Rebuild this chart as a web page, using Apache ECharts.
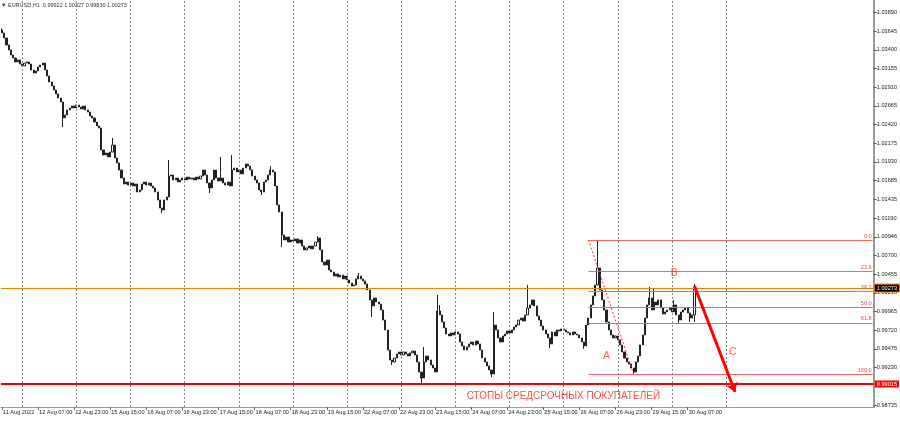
<!DOCTYPE html>
<html>
<head>
<meta charset="utf-8">
<script src="https://cdn.jsdelivr.net/npm/echarts@6/dist/echarts.min.js"></script>
<style>
html, body { margin: 0; padding: 0; background: #fff; }
#chart { width: 900px; height: 421px; }
</style>
</head>
<body>
<div id="chart"></div>
<script>
// EURUSD H1, 11 Aug 15:00 .. 30 Aug 10:00 (one close per bar)
const firstOpen = 1.03660
const closes = [
  1.03621, 1.03555, 1.03464, 1.03398, 1.03332, 1.03293, 1.03241, 1.03267, 1.03214, 1.03188,
  1.03227, 1.03241, 1.03214, 1.03135, 1.03096, 1.03122, 1.03175, 1.03201, 1.03227, 1.03135,
  1.03057, 1.02978, 1.02926, 1.02873, 1.02821, 1.02768, 1.02716, 1.02506, 1.02545, 1.02611,
  1.02637, 1.02663, 1.02637, 1.02676, 1.02650, 1.02624, 1.02663, 1.02611, 1.02584, 1.02532,
  1.02506, 1.02453, 1.02401, 1.02374, 1.02086, 1.02020, 1.02046, 1.01994, 1.02059, 1.02151,
  1.01981, 1.01915, 1.01823, 1.01718, 1.01640, 1.01666, 1.01626, 1.01653, 1.01613, 1.01640,
  1.01535, 1.01561, 1.01640, 1.01666, 1.01626, 1.01653, 1.01613, 1.01587, 1.01535, 1.01430,
  1.01325, 1.01298, 1.01430, 1.01469, 1.01744, 1.01758, 1.01692, 1.01718, 1.01666, 1.01692,
  1.01718, 1.01692, 1.01731, 1.01705, 1.01718, 1.01692, 1.01731, 1.01705, 1.01744, 1.01823,
  1.01758, 1.01653, 1.01587, 1.01692, 1.01823, 1.01718, 1.01679, 1.01718, 1.01653, 1.01626,
  1.01666, 1.01613, 1.01823, 1.01849, 1.01797, 1.01823, 1.01771, 1.01849, 1.01902, 1.01876,
  1.01823, 1.01744, 1.01692, 1.01653, 1.01561, 1.01535, 1.01666, 1.01692, 1.01758, 1.01823,
  1.01797, 1.01613, 1.01364, 1.01272, 1.00970, 1.00905, 1.00944, 1.00878, 1.00905, 1.00892,
  1.00918, 1.00865, 1.00905, 1.00826, 1.00774, 1.00800, 1.00826, 1.00787, 1.00826, 1.00878,
  1.00931, 1.00774, 1.00616, 1.00577, 1.00642, 1.00511, 1.00485, 1.00432, 1.00459, 1.00419,
  1.00445, 1.00393, 1.00432, 1.00380, 1.00340, 1.00301, 1.00314, 1.00393, 1.00432, 1.00393,
  1.00367, 1.00327, 1.00249, 1.00118, 1.00039, 1.00144, 1.00091, 1.00065, 0.99986, 0.99854,
  0.99724, 0.99461, 0.99330, 0.99304, 0.99356, 0.99409, 0.99435, 0.99396, 0.99435, 0.99409,
  0.99383, 0.99422, 0.99448, 0.99396, 0.99304, 0.99172, 0.99093, 0.99304, 0.99383, 0.99330,
  0.99264, 0.99225, 0.99172, 0.99973, 0.99921, 0.99829, 0.99750, 0.99671, 0.99645, 0.99685,
  0.99658, 0.99698, 0.99671, 0.99566, 0.99514, 0.99461, 0.99501, 0.99540, 0.99566, 0.99527,
  0.99580, 0.99540, 0.99461, 0.99356, 0.99304, 0.99251, 0.99199, 0.99146, 0.99789, 0.99724,
  0.99619, 0.99566, 0.99645, 0.99671, 0.99711, 0.99685, 0.99724, 0.99763, 0.99789, 0.99854,
  0.99881, 0.99841, 0.99921, 1.00012, 1.00052, 1.00118, 1.00039, 0.99907, 0.99854, 0.99776,
  0.99724, 0.99671, 0.99619, 0.99540, 0.99698, 0.99645, 0.99724, 0.99711, 0.99737, 0.99724,
  0.99698, 0.99685, 0.99658, 0.99698, 0.99671, 0.99658, 0.99619, 0.99566, 0.99514, 0.99789,
  0.99881, 1.00052, 1.00170, 1.00314, 1.00537, 1.00249, 1.00118, 0.99986, 0.99829, 0.99724,
  0.99658, 0.99619, 0.99645, 0.99593, 0.99527, 0.99435, 0.99356, 0.99304, 0.99277, 0.99225,
  0.99172, 0.99304, 0.99383, 0.99527, 0.99658, 0.99881, 1.00052, 1.00144, 0.99986, 1.00091,
  1.00052, 1.00118, 1.00012, 0.99934, 0.99960, 0.99986, 1.00012, 0.99960, 1.00052, 0.99921,
  0.99854, 0.99960, 0.99986, 1.00012, 0.99947, 0.99881, 0.99922, 1.00273
]
// long wicks visible in the picture (bar index -> price)
const wickHigh = {
  0: 1.03680, 49: 1.02243, 74: 1.01954, 97: 1.01994, 102: 1.02020, 119: 1.01876,
  140: 1.00957, 158: 1.00472, 187: 0.99501, 193: 1.00183, 194: 1.00052, 218: 0.99960,
  233: 1.00314, 237: 1.00012, 264: 1.00905, 287: 1.00288, 289: 1.00275, 298: 1.00118, 307: 1.00327
}
const wickLow = {
  27: 1.02388, 71: 1.01259, 92: 1.01521, 115: 1.01495, 124: 1.00813, 164: 0.99894,
  173: 0.99264, 186: 0.99028, 217: 0.99107, 243: 0.99488, 258: 0.99475, 280: 0.99146,
  300: 0.99815, 305: 0.99829, 307: 0.99830
}
const timeLabels = [
  '11 Aug 2022', '12 Aug 07:00', '12 Aug 23:00', '15 Aug 15:00', '16 Aug 07:00',
  '16 Aug 23:00', '17 Aug 15:00', '18 Aug 07:00', '18 Aug 23:00', '19 Aug 15:00',
  '22 Aug 07:00', '22 Aug 23:00', '23 Aug 15:00', '24 Aug 07:00', '24 Aug 23:00',
  '25 Aug 15:00', '26 Aug 07:00', '26 Aug 23:00', '29 Aug 15:00', '30 Aug 07:00'
]
const barsPerLabel = 16
const dayStarts = [9, 33, 57, 81, 105, 129, 153, 177, 201, 225, 249, 273, 297, 321]
const priceTicks = [
  1.03890, 1.03645, 1.03400, 1.03155, 1.02910, 1.02665, 1.02420, 1.02175, 1.01930, 1.01685,
  1.01435, 1.01190, 1.00946, 1.00700, 1.00455, 1.00210, 0.99965, 0.99720, 0.99475, 0.99230, 0.98735
]
const bidPrice = 1.00273
const stopPrice = 0.99015
const fibStart = 260
const fibEnd = 280
const fibHigh = 1.00905
const fibLow = 0.99146
const fibLevels = [0, 23.6, 38.2, 50, 61.8, 100]
const arrowFrom = [307, 1.00301]
const arrowTo = [325, 0.98910]
const waveLabels = [
  { name: 'A', value: [268, 0.99383] },
  { name: 'B', value: [298, 1.00472] },
  { name: 'C', value: [324, 0.99435] }
]
const stopText = { name: 'СТОПЫ СРЕДСРОЧНЫХ ПОКУПАТЕЛЕЙ', value: [206, 0.98858] }
const totalSlots = 387

const categories = []
for (let i = 0; i < totalSlots; i++) categories.push(String(i))

const candles = closes.map((c, i) => {
  const o = i === 0 ? firstOpen : closes[i - 1]
  const h = wickHigh[i] !== undefined ? wickHigh[i] : Math.max(o, c)
  const l = wickLow[i] !== undefined ? wickLow[i] : Math.min(o, c)
  return [o, c, l, h]
})
const last = candles[candles.length - 1]
const ohlcText = [last[0], last[3], last[2], last[1]].map(v => v.toFixed(5)).join(' ')

const fibColor = '#ff6060'
const fibLines = fibLevels.map(lv => {
  const p = fibHigh - (fibHigh - fibLow) * lv / 100
  return [
    { coord: [fibStart, p], lineStyle: { color: fibColor, type: 'solid', width: 1 } },
    {
      coord: [totalSlots - 1, p],
      label: {
        show: true, position: 'insideEndTop', distance: 1, formatter: lv.toFixed(1),
        color: '#ff4040', fontSize: 5.6
      }
    }
  ]
})

const chart = echarts.init(document.getElementById('chart'))
chart.setOption({
  animation: false,
  backgroundColor: '#ffffff',
  textStyle: { fontFamily: 'Liberation Sans' },
  grid: { left: -2.6, right: 23, top: 0, bottom: 14 },
  graphic: [{
    type: 'text', left: 1, top: 2, silent: true,
    style: {
      text: '▼ EURUSD,H1  ' + ohlcText,
      fontSize: 5.5, fill: '#333', fontFamily: 'Liberation Sans'
    }
  }],
  xAxis: {
    type: 'category',
    data: categories,
    boundaryGap: true,
    axisLine: { show: true, lineStyle: { color: '#9a9a9a', width: 1 } },
    axisTick: {
      show: true, alignWithLabel: true, length: 3,
      interval: idx => idx % barsPerLabel === 0 && idx / barsPerLabel < timeLabels.length,
      lineStyle: { color: '#666' }
    },
    axisLabel: {
      show: true,
      interval: idx => idx % barsPerLabel === 0 && idx / barsPerLabel < timeLabels.length,
      formatter: (v, idx) => timeLabels[idx / barsPerLabel] || '',
      align: 'left', margin: 2, fontSize: 5.6, color: '#222',
      padding: [0, 0, 0, 1]
    },
    splitLine: { show: false }
  },
  yAxis: {
    type: 'value',
    position: 'right',
    min: 0.98713,
    max: 1.04054,
    axisLine: { show: true, lineStyle: { color: '#9a9a9a', width: 2 } },
    axisTick: { show: true, length: 3, customValues: priceTicks, lineStyle: { color: '#555' } },
    axisLabel: {
      show: true, customValues: priceTicks, margin: 3,
      formatter: v => v.toFixed(5), fontSize: 5.6, color: '#222'
    },
    splitLine: { show: false }
  },
  series: [
    {
      // daily dotted grid
      type: 'line', data: [], z: 1, silent: true,
      markLine: {
        silent: true, symbol: 'none', label: { show: false },
        lineStyle: { color: '#8a8a8a', type: [2, 2], width: 1 },
        data: dayStarts.map(d => ({ xAxis: d }))
      }
    },
    {
      type: 'candlestick',
      data: candles,
      z: 3,
      barWidth: 1.6,
      itemStyle: {
        color: '#ffffff', borderColor: '#222222',
        color0: '#222222', borderColor0: '#222222', borderWidth: 1
      }
    },
    {
      // levels and drawings
      type: 'line', data: [], z: 4, silent: true,
      markLine: {
        silent: true, symbol: 'none', precision: 5,
        data: [
          {
            yAxis: bidPrice,
            lineStyle: { color: '#ff8000', type: 'solid', width: 1 },
            label: {
              show: true, position: 'end', distance: 1, formatter: bidPrice.toFixed(5),
              color: '#fff', backgroundColor: '#000', borderColor: '#ff8000', borderWidth: 1,
              fontSize: 5.6, padding: [1, 2, 0, 2]
            }
          },
          {
            yAxis: stopPrice,
            lineStyle: { color: '#ff0000', type: 'solid', width: 2 },
            label: {
              show: true, position: 'end', distance: 1, formatter: stopPrice.toFixed(5),
              color: '#fff', backgroundColor: '#ff0000',
              fontSize: 5.6, padding: [1, 2, 0, 2]
            }
          },
          ...fibLines,
          [
            { coord: [fibStart, fibHigh], lineStyle: { color: '#ff2a2a', type: [2, 2], width: 1 } },
            { coord: [fibEnd, fibLow] }
          ],
          [
            { coord: arrowFrom, symbol: 'none', lineStyle: { color: '#ff0000', type: 'solid', width: 3 } },
            { coord: arrowTo, symbol: 'arrow', symbolSize: 9 }
          ]
        ]
      }
    },
    {
      type: 'scatter', z: 5, silent: true,
      symbolSize: 0,
      data: waveLabels,
      label: {
        show: true, position: 'inside', formatter: p => p.name,
        color: '#ff3030', fontSize: 10.5, fontFamily: 'Liberation Sans'
      }
    },
    {
      type: 'scatter', z: 5, silent: true,
      symbolSize: 0,
      data: [stopText],
      label: {
        show: true, position: 'inside', align: 'left', formatter: p => p.name,
        color: '#ff2020', fontSize: 10, fontFamily: 'Liberation Sans'
      }
    }
  ]
})
</script>
</body>
</html>
